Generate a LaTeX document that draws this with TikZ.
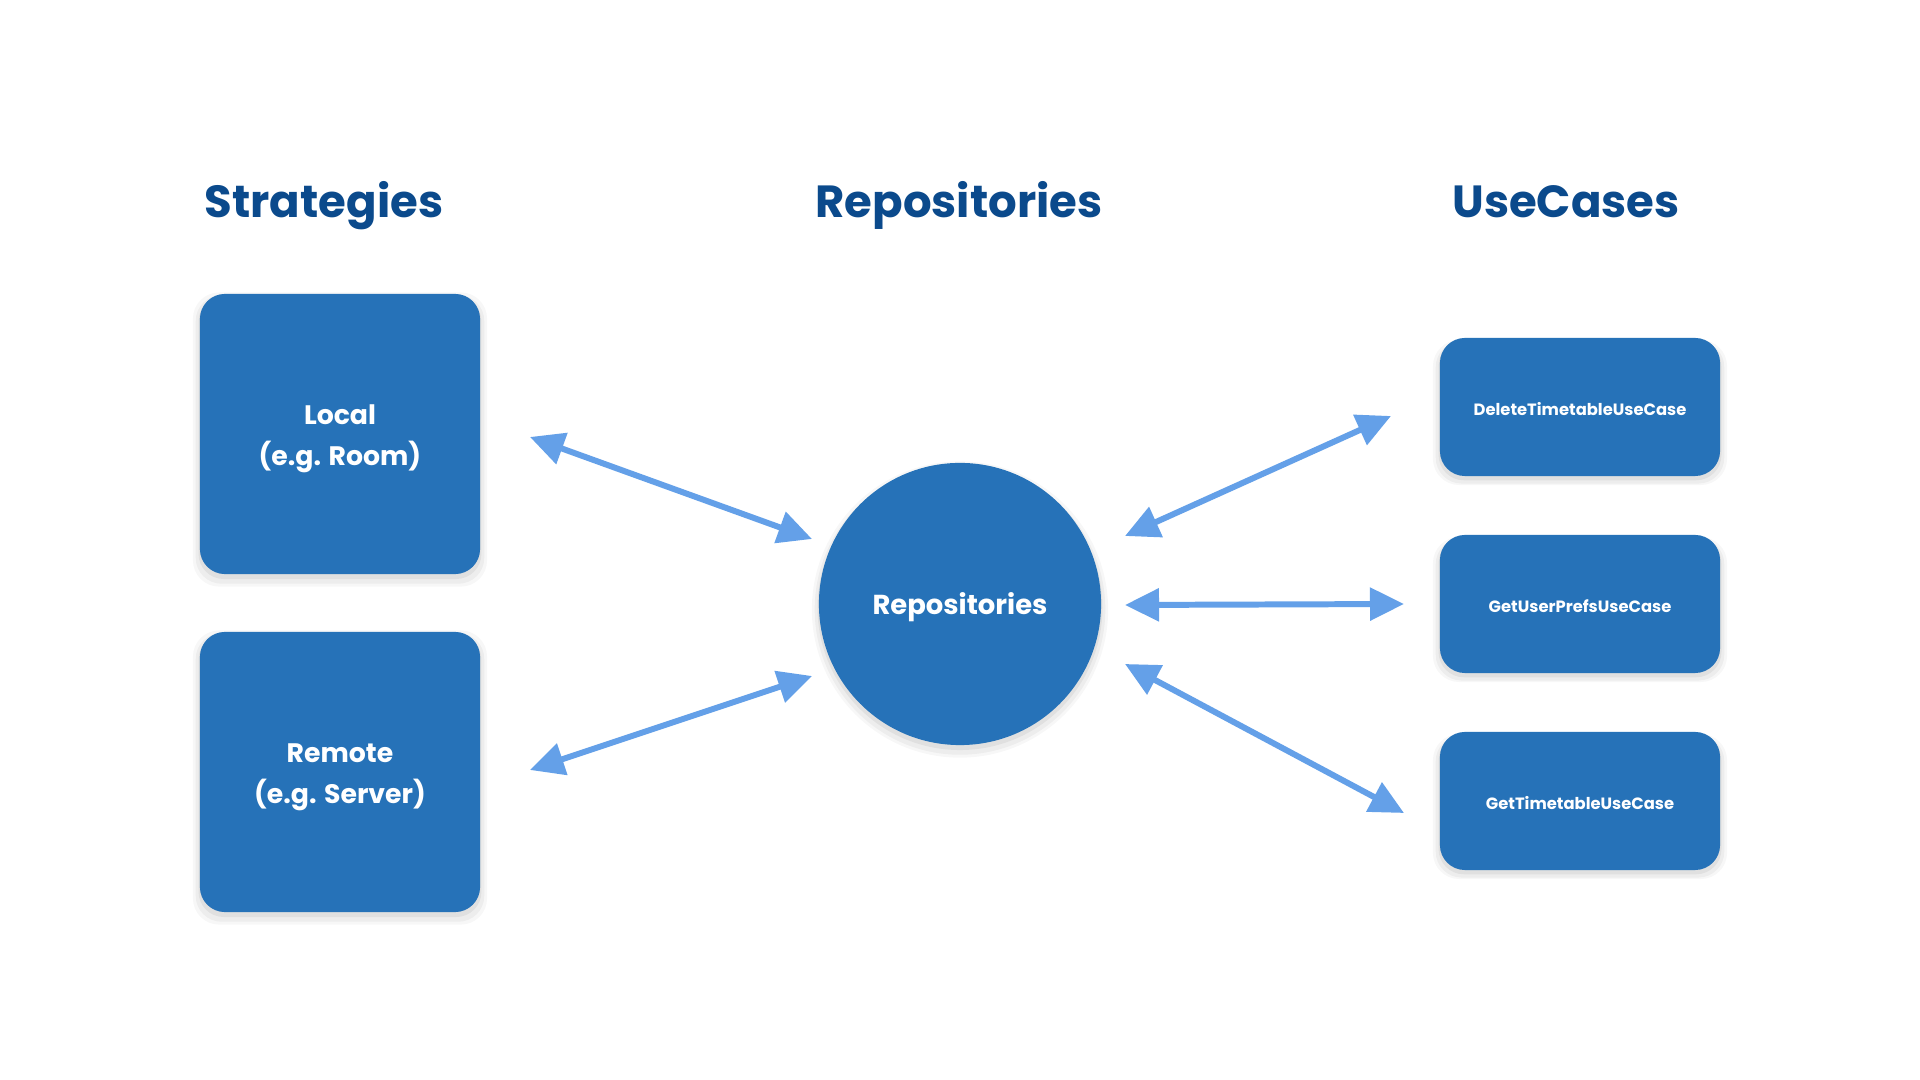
\documentclass[tikz,border=0pt]{standalone}
\usepackage{fontspec}
\setmainfont{Poppins}
\usetikzlibrary{arrows.meta,shadows}
\definecolor{boxblue}{HTML}{2672B8}
\definecolor{titleblue}{HTML}{0B4A8C}
\definecolor{arrowblue}{HTML}{64A0E8}
\begin{document}
\begin{tikzpicture}[x=0.01cm,y=-0.01cm,>={Triangle[length=3.4mm,width=3.2mm]},
  title/.style={anchor=base,text=titleblue,font=\fontsize{12.8}{15}\selectfont\bfseries},
  soft shadow/.style={
    drop shadow={shadow xshift=0pt,shadow yshift=-1.5pt,shadow scale=1.05,opacity=0.03,fill=black},
    drop shadow={shadow xshift=0pt,shadow yshift=-1.5pt,shadow scale=1.03,opacity=0.04,fill=black},
    drop shadow={shadow xshift=0pt,shadow yshift=-1pt,shadow scale=1.01,opacity=0.05,fill=black}},
  big box/.style={rectangle,rounded corners=0.25cm,fill=boxblue,text=white,inner sep=0pt,
    minimum width=2.8cm,minimum height=2.8cm,align=center,soft shadow,
    font=\fontsize{7.6}{11.7}\selectfont\bfseries},
  use box/.style={rectangle,rounded corners=0.25cm,fill=boxblue,text=white,inner sep=0pt,
    minimum width=2.8cm,minimum height=1.38cm,soft shadow,text height=4.6pt,
    font=\fontsize{4.65}{6}\selectfont\bfseries},
  repo node/.style={circle,fill=boxblue,text=white,inner sep=0pt,minimum size=2.82cm,soft shadow,
    text height=8pt,font=\fontsize{7.8}{11.7}\selectfont\bfseries}]

  \useasboundingbox[fill=white] (0,0) rectangle (1920,1080);

  % column titles
  \node[title] (strategies) at (324,218) {Strategies};
  \node[title] (repositories) at (959,218) {Repositories};
  \node[title] (usecases) at (1566,218) {UseCases};

  \node[big box] (local) at (340,434) {\rule{0pt}{8.5pt}Local\\(e.g. Room)};
  \node[big box] (remote) at (340,772) {\rule{0pt}{8.5pt}Remote\\(e.g. Server)};
  \node[repo node] (repo) at (960,604) {Repositories};
  \node[use box] (delete) at (1580,407) {DeleteTimetableUseCase};
  \node[use box] (prefs) at (1580,604) {GetUserPrefsUseCase};
  \node[use box] (timetable) at (1580,801) {GetTimetableUseCase};

  % arrow ends
  \coordinate (l1) at (530,437);
  \coordinate (l2) at (812,539);
  \coordinate (r1) at (530,770);
  \coordinate (r2) at (812,676);
  \coordinate (d1) at (1125,536);
  \coordinate (d2) at (1391,416);
  \coordinate (p1) at (1125,605);
  \coordinate (p2) at (1404,604);
  \coordinate (t1) at (1125,664);
  \coordinate (t2) at (1404,813);

  \path[arrowblue,line width=1.7pt]
    (l1) edge[<->] (l2)
    (r1) edge[<->] (r2)
    (d1) edge[<->] (d2)
    (p1) edge[<->] (p2)
    (t1) edge[<->] (t2)
    ;
\end{tikzpicture}
\end{document}
